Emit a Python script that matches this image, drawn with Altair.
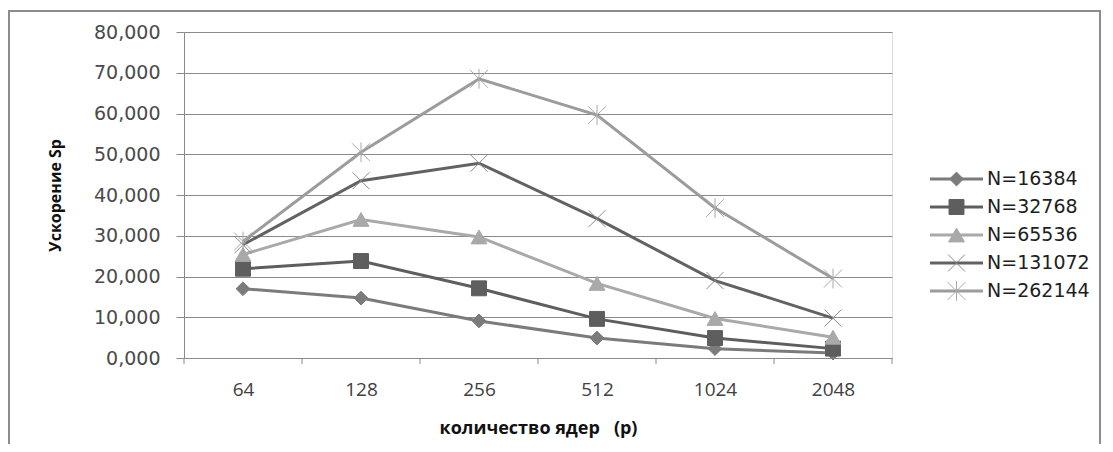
import altair as alt
import pandas as pd

# ---- data ----
cores = ["64", "128", "256", "512", "1024", "2048"]
series = ["N=16384", "N=32768", "N=65536", "N=131072", "N=262144"]
s16384 = [17.0, 14.7, 9.1, 4.9, 2.3, 1.2]
s32768 = [21.9, 23.8, 17.1, 9.6, 4.9, 2.3]
s65536 = [25.4, 34.0, 29.7, 18.3, 9.7, 5.1]
s131072 = [27.8, 43.5, 47.8, 34.2, 19.0, 9.8]
s262144 = [28.6, 50.5, 68.5, 59.6, 36.8, 19.5]
y_ticks = [0, 10, 20, 30, 40, 50, 60, 70, 80]

# ---- styles ----
line_colors = ["#7b7b7b", "#5e5e5e", "#a9a9a9", "#626262", "#9c9c9c"]
marker_colors = ["#7b7b7b", "#5e5e5e", "#a9a9a9", "#8a8a8a", "#a8a8a8"]
shapes = ["diamond", "square", "triangle-up",
          "M-1,-1L1,1M-1,1L1,-1",
          "M-1,-1L1,1M-1,1L1,-1M0,-1.1L0,1.1"]
marker_sizes = [190, 320, 300, 290, 290]
GRID = "#8a8a8a"

all_vals = [s16384, s32768, s65536, s131072, s262144]
rows = []
for name, vals in zip(series, all_vals):
    for i, (c, v) in enumerate(zip(cores, vals)):
        rows.append({"series": name, "idx": i, "p": c, "sp": v})
df = pd.DataFrame(rows)
legend_df = pd.DataFrame({"series": series})
bounds_df = pd.DataFrame({"b": [i - 0.5 for i in range(len(cores) + 1)]})

W, H = 708, 326
xscale = alt.Scale(domain=[-0.5, len(cores) - 0.5], nice=False, zero=False)
yscale = alt.Scale(domain=[0, 80], nice=False)
color_scale = alt.Scale(domain=series, range=line_colors)
mcolor_scale = alt.Scale(domain=series, range=marker_colors)
shape_scale = alt.Scale(domain=series, range=shapes)
size_scale = alt.Scale(domain=series, range=marker_sizes)

label_expr_x = str(cores) + "[datum.value]"

x_enc = alt.X("idx:Q", scale=xscale, axis=alt.Axis(
    values=list(range(len(cores))), labelExpr=label_expr_x, ticks=False,
    grid=False, domainColor=GRID, domainWidth=1, labelFont="Open Sans",
    labelFontSize=19, labelColor="#404040", labelPadding=22,
    title="количество ядер\u00a0\u00a0\u00a0(p)", titleFont="Open Sans",
    titleFontSize=18, titleFontWeight="bold", titleColor="#111111",
    titleBaseline="middle", titleY=70))

y_enc = alt.Y("sp:Q", scale=yscale, axis=alt.Axis(
    values=y_ticks, labelExpr="replace(format(datum.value, '.3f'), '.', ',')",
    grid=True, gridColor=GRID, gridWidth=1, domainColor=GRID, tickColor=GRID,
    tickSize=8, labelPadding=16, labelFont="DejaVu Sans", labelFontSize=19,
    labelColor="#4a4a4a", title="Ускорение Sp", titleFont="Open Sans",
    titleFontSize=16, titleFontWeight="bold", titleColor="#111111",
    titleAngle=-90, titleX=-129, titleY=H / 2, titleAlign="center",
    titleBaseline="middle"))

lines = alt.Chart(df).mark_line(strokeWidth=3).encode(
    x=x_enc, y=y_enc,
    color=alt.Color("series:N", scale=color_scale, legend=None),
    order="idx:Q",
)

points = alt.Chart(df).mark_point(filled=True, strokeWidth=1, opacity=1).encode(
    x=alt.X("idx:Q", scale=xscale),
    y=alt.Y("sp:Q", scale=yscale, axis=None),
    fill=alt.Fill("series:N", scale=mcolor_scale, legend=None),
    stroke=alt.Stroke("series:N", scale=mcolor_scale, legend=None),
    shape=alt.Shape("series:N", scale=shape_scale, legend=None),
    size=alt.Size("series:N", scale=size_scale, legend=None),
)

xticks = alt.Chart(bounds_df).mark_rule(color=GRID, strokeWidth=1).encode(
    x=alt.X("b:Q", scale=xscale),
    y=alt.value(H), y2=alt.value(H + 6),
)

leg_y = alt.Y("series:N", scale=alt.Scale(type="point", domain=series,
                                          range=[133, 273]), axis=None)
leg_lines = alt.Chart(legend_df).mark_rule(strokeWidth=3).encode(
    x=alt.value(746), x2=alt.value(799), y=leg_y,
    color=alt.Color("series:N", scale=color_scale, legend=None),
)
leg_points = alt.Chart(legend_df).mark_point(filled=True, strokeWidth=1, opacity=1).encode(
    x=alt.value(772.5), y=leg_y,
    fill=alt.Fill("series:N", scale=mcolor_scale, legend=None),
    stroke=alt.Stroke("series:N", scale=mcolor_scale, legend=None),
    shape=alt.Shape("series:N", scale=shape_scale, legend=None),
    size=alt.Size("series:N", scale=size_scale, legend=None),
)
leg_text = alt.Chart(legend_df).mark_text(
    align="left", baseline="middle", font="DejaVu Sans", fontSize=19,
    color="#1e1e1e").encode(x=alt.value(803), y=leg_y, text="series:N")

frame = alt.Chart(alt.Data(values=[{"f": 1}])).mark_rect(
    fill="white", fillOpacity=0, stroke="#8c8c8c", strokeWidth=2).encode(
    x=alt.value(-175), x2=alt.value(916), y=alt.value(-21), y2=alt.value(470))

chart = alt.layer(frame, lines, points, xticks, leg_lines, leg_points, leg_text).resolve_scale(
    y="independent"
).properties(
    width=W, height=H,
    autosize=alt.AutoSizeParams(type="none"),
    padding={"left": 176, "top": 24, "right": 213, "bottom": 86},
).configure_view(stroke=None).configure(background="white")

chart.save("out.html", embed_options={"renderer": "svg", "actions": False})
